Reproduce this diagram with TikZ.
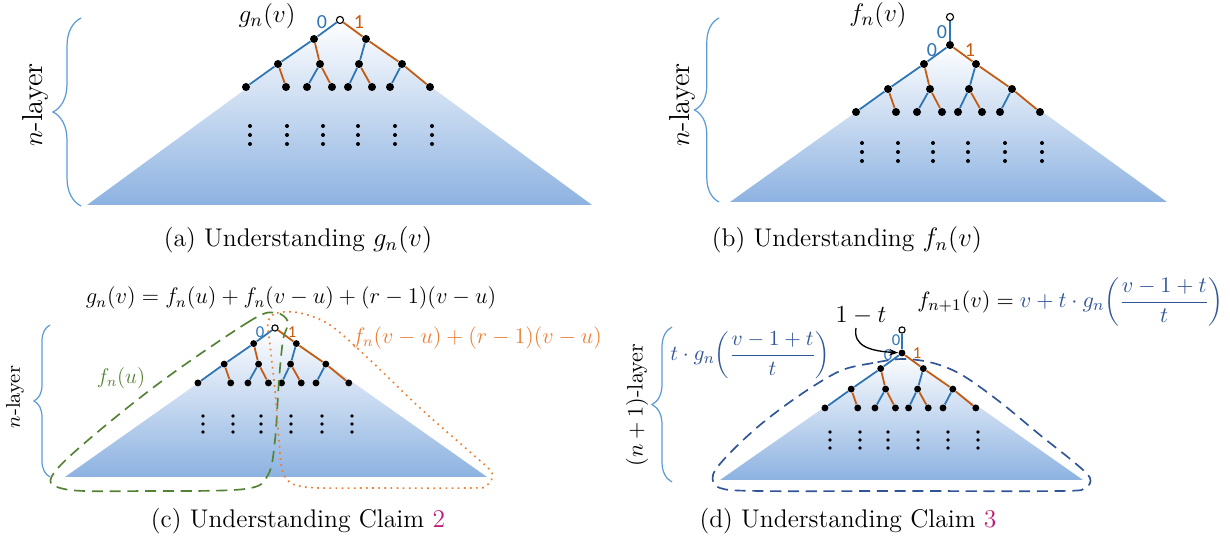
\documentclass[tikz,border=0pt]{standalone}
\usepackage{fontspec}
\newfontfamily\numfont{Carlito}
\usetikzlibrary{decorations.pathreplacing,arrows.meta}
\definecolor{treeblue}{RGB}{46,117,182}
\definecolor{treeorange}{RGB}{197,90,17}
\definecolor{bracecol}{RGB}{91,155,213}
\definecolor{trifill}{RGB}{141,178,225}
\definecolor{loopgreen}{RGB}{84,130,53}
\definecolor{looporange}{RGB}{237,125,49}
\definecolor{darkblue}{RGB}{47,85,151}
\definecolor{refcol}{RGB}{190,25,120}
\tikzset{
  bd/.style={circle, fill=black, inner sep=0pt},
  od/.style={circle, draw=black, fill=white, line width=0.5pt, inner sep=0pt},
  be/.style={treeblue, line width=0.8pt},
  oe/.style={treeorange, line width=0.8pt},
  lbl/.style={font=\numfont\fontsize{9}{10}\selectfont, inner sep=0pt},
  slbl/.style={font=\numfont\fontsize{7.5}{9}\selectfont, inner sep=0pt},
  capt/.style={font=\fontsize{11.5}{14}\selectfont, inner sep=0pt},
  bracestyle/.style={bracecol, line width=0.55pt, decorate},
  vdot/.style={fill=black},
  loopdash/.style={line width=0.75pt, dash pattern=on 5pt off 3pt},
}
\newcommand{\mytree}[6]{%
\begin{scope}[shift={(#2,#3)}, scale=#4]
  \node[#6] (#1r) at (0,0) {};
  \node[bd, minimum size=#5] (#1a) at (-26,19) {};
  \node[bd, minimum size=#5] (#1b) at (26,19) {};
  \node[bd, minimum size=#5] (#1aa) at (-62,44) {};
  \node[bd, minimum size=#5] (#1ab) at (-20,44) {};
  \node[bd, minimum size=#5] (#1ba) at (19,44) {};
  \node[bd, minimum size=#5] (#1bb) at (62,44) {};
  \node[bd, minimum size=#5] (#1aaa) at (-94,67) {};
  \node[bd, minimum size=#5] (#1aab) at (-54,67) {};
  \node[bd, minimum size=#5] (#1aba) at (-33,67) {};
  \node[bd, minimum size=#5] (#1abb) at (-8,67) {};
  \node[bd, minimum size=#5] (#1baa) at (8,67) {};
  \node[bd, minimum size=#5] (#1bab) at (32,67) {};
  \node[bd, minimum size=#5] (#1bba) at (50,67) {};
  \node[bd, minimum size=#5] (#1bbb) at (90,67) {};
  \draw[be] (#1r) -- (#1a);
  \draw[oe] (#1r) -- (#1b);
  \draw[be] (#1a) -- (#1aa);
  \draw[oe] (#1a) -- (#1ab);
  \draw[be] (#1b) -- (#1ba);
  \draw[oe] (#1b) -- (#1bb);
  \draw[be] (#1aa) -- (#1aaa);
  \draw[oe] (#1aa) -- (#1aab);
  \draw[be] (#1ab) -- (#1aba);
  \draw[oe] (#1ab) -- (#1abb);
  \draw[be] (#1ba) -- (#1baa);
  \draw[oe] (#1ba) -- (#1bab);
  \draw[be] (#1bb) -- (#1bba);
  \draw[oe] (#1bb) -- (#1bbb);
\end{scope}}
\begin{document}
\begin{tikzpicture}[x=0.45pt, y=-0.45pt]
\useasboundingbox (0,0) rectangle (1230,544);

% ---------- triangles
\shade[top color=white, bottom color=trifill] (340,20) -- (592,205) -- (87,205) -- cycle;
\shade[top color=white, bottom color=trifill] (950,45) -- (1167,202) -- (730,202) -- cycle;
\shade[top color=white, bottom color=trifill] (276,328) -- (487,477) -- (65,477) -- cycle;
\shade[top color=white, bottom color=trifill] (902,353) -- (1083,480) -- (720,480) -- cycle;

% ---------- vertical dots
\foreach \x in {250,287,323,358,395,432} \foreach \y in {126,135,144} \fill[vdot] (\x,\y) circle[radius=0.9pt];
\foreach \x in {862,898,933,968,1005,1042} \foreach \y in {143,152,161} \fill[vdot] (\x,\y) circle[radius=0.9pt];
\foreach \x in {203,233,261,291,322,352} \foreach \y in {416,424,432} \fill[vdot] (\x,\y) circle[radius=0.85pt];
\foreach \x in {830,860,888,918,948,978} \foreach \y in {432,440,448} \fill[vdot] (\x,\y) circle[radius=0.85pt];

% ---------- trees
\mytree{a}{340}{20}{1}{3.6pt}{od, minimum size=3.2pt}
\mytree{b}{950}{45}{1}{3.6pt}{bd, minimum size=3.6pt}
\node[od, minimum size=3.2pt] (brt) at (950,17) {};
\draw[be] (brt) -- (br);
\mytree{c}{275}{328}{0.82}{3.1pt}{od, minimum size=2.8pt}
\mytree{d}{902}{353}{0.82}{3.1pt}{bd, minimum size=3.1pt}
\node[od, minimum size=2.8pt] (drt) at (902,330) {};
\draw[be] (drt) -- (dr);

% ---------- edge labels
\node[lbl, treeblue] (la0) at (322,22) {0};
\node[lbl, treeorange] (la1) at (359,22) {1};
\node[lbl, treeblue] (lb00) at (942,32) {0};
\node[lbl, treeblue] (lb0) at (932,50) {0};
\node[lbl, treeorange] (lb1) at (970,50) {1};
\node[slbl, treeblue] (lc0) at (260,332) {0};
\node[slbl, treeorange] (lc1) at (292,332) {1};
\node[slbl, treeblue] (ld00) at (896,340) {0};
\node[slbl, treeblue] (ld0) at (888,355) {0};
\node[slbl, treeorange] (ld1) at (917,353) {1};

% ---------- braces and layer labels
\draw[bracestyle, decoration={brace, amplitude=12.6pt}] (81,206) -- (81,18);
\node[rotate=90, font=\fontsize{13}{15}\selectfont] (layera) at (35,105) {$n$-layer};
\draw[bracestyle, decoration={brace, amplitude=11pt}] (719,202) -- (719,18);
\node[rotate=90, font=\fontsize{13}{15}\selectfont] (layerb) at (682,105) {$n$-layer};
\draw[bracestyle, decoration={brace, amplitude=7.2pt}] (50,477) -- (50,325);
\node[rotate=90, font=\fontsize{9}{11}\selectfont] (layerc) at (15,397) {$n$-layer};
\draw[bracestyle, decoration={brace, amplitude=9pt}] (672,482) -- (672,327);
\node[rotate=90, font=\fontsize{10}{12}\selectfont] (layerd) at (637,405) {$(n+1)$-layer};

% ---------- panel labels
\node[font=\fontsize{13}{15}\selectfont, scale=0.95] (gnv) at (267,16) {$g_n(v)$};
\node[font=\fontsize{13}{15}\selectfont, scale=0.95] (fnv) at (878,15) {$f_n(v)$};
\node[font=\fontsize{11.5}{14}\selectfont, scale=0.845] (eqc) at (291,298) {$g_n(v) = f_n(u) + f_n(v-u) + (r-1)(v-u)$};
\node[font=\fontsize{12}{14}\selectfont, loopgreen, scale=0.8] (fnu) at (121,378) {$f_n(u)$};
\node[font=\fontsize{11.5}{14}\selectfont, looporange, anchor=west, inner sep=0pt, scale=0.835] (fnvu) at (352,338) {$f_n(v-u) + (r-1)(v-u)$};

% ---------- loops in (c)
\draw[loopgreen, loopdash] plot[smooth cycle, tension=0.55] coordinates {
  (276,313) (250,321) (150,390) (58,468) (64,489) (150,491) (245,489) (268,475) (275,440) (279,380) (283,340) (288,322)};
\draw[looporange, line width=0.75pt, dotted] plot[smooth cycle, tension=0.55] coordinates {
  (268,322) (277,313) (300,313) (330,325) (370,360) (420,408) (470,452) (492,473) (486,486) (470,488) (380,488) (305,487) (284,475) (279,440) (275,390) (270,345)};

% ---------- panel (d) extras
\draw[darkblue, loopdash] plot[smooth cycle, tension=0.55] coordinates {
  (903,359) (873,363) (840,371) (800,395) (760,425) (728,455) (713,475) (720,488) (760,491) (900,491) (1060,491) (1085,488) (1090,478) (1075,463) (1040,435) (1000,402) (962,375) (933,363)};
\node[font=\fontsize{12}{14}\selectfont, scale=0.92] (omt) at (861,316) {$1-t$};
\coordinate (arrs) at (856,328);
\draw[-{Stealth[length=4pt,width=3pt]}, line width=0.6pt] (arrs) .. controls (853,346) and (870,351) .. (dr);
\node[font=\fontsize{11}{13}\selectfont, anchor=west, inner sep=0pt, scale=0.91] (fn1) at (917,302) {$f_{n+1}(v) = {\color{darkblue} v + t\cdot g_n\!\left({\displaystyle\frac{v-1+t}{t}}\right)}$};
\node[font=\fontsize{11}{13}\selectfont, anchor=west, inner sep=0pt, darkblue, scale=0.88] (tgn) at (670,355) {$t\cdot g_n\!\left({\displaystyle\frac{v-1+t}{t}}\right)$};

% ---------- captions
\node[capt] (capa) at (298,240) {(a) Understanding $g_n(v)$};
\node[capt] (capb) at (847,240) {(b) Understanding $f_n(v)$};
\node[capt] (capc) at (298,521) {(c) Understanding Claim \textcolor{refcol}{2}};
\node[capt] (capd) at (848,521) {(d) Understanding Claim \textcolor{refcol}{3}};
\end{tikzpicture}
\end{document}
